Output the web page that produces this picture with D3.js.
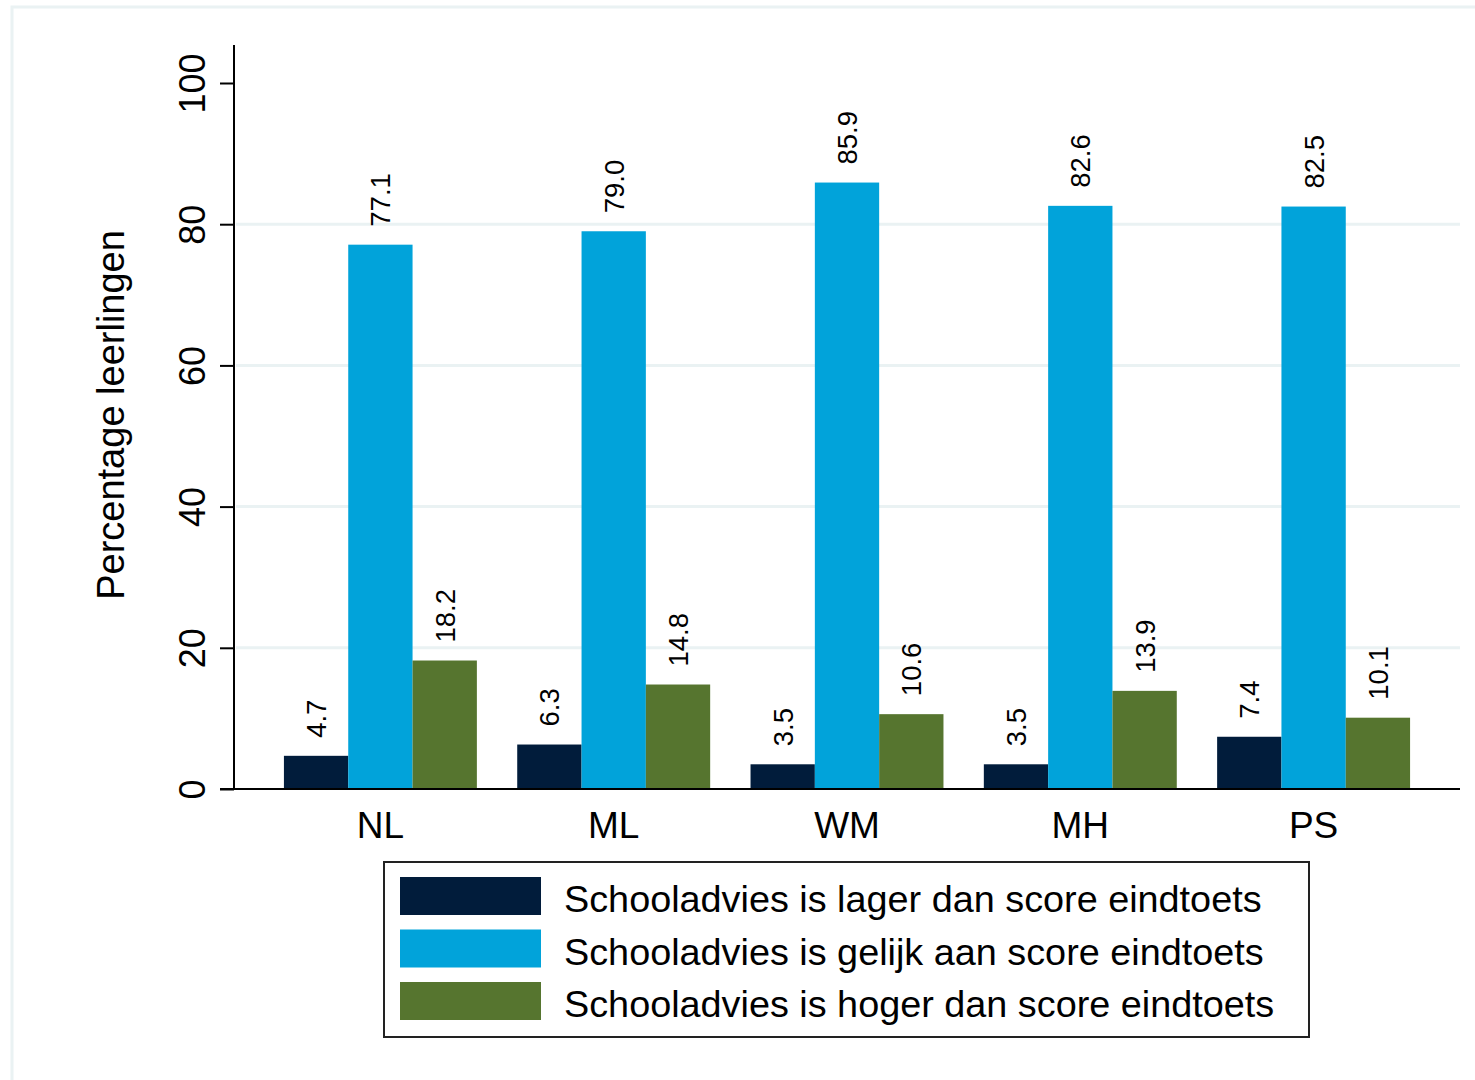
<!DOCTYPE html>
<html>
<head>
<meta charset="utf-8">
<script src="https://cdn.jsdelivr.net/npm/d3@7"></script>
<style>
  body { margin: 0; background: #fff; }
  text { font-family: "Liberation Sans", Arial, sans-serif; fill: #000; }
</style>
</head>
<body>
<svg id="chart" width="1475" height="1080"></svg>
<script>
// groups on the x axis
let categories = ["NL", "ML", "WM", "MH", "PS"];

// series: advice lower / equal / higher than test score
let lager  = [4.7, 6.3, 3.5, 3.5, 7.4];
let gelijk = [77.1, 79.0, 85.9, 82.6, 82.5];
let hoger  = [18.2, 14.8, 10.6, 13.9, 10.1];

let seriesNames = [
  "Schooladvies is lager dan score eindtoets",
  "Schooladvies is gelijk aan score eindtoets",
  "Schooladvies is hoger dan score eindtoets"
];
let seriesColors = ["#011c3b", "#01a3da", "#56752f"];

let yTicks = [0, 20, 40, 60, 80, 100];

let svg = d3.select("#chart");

// light outer frame
svg.append("rect")
  .attr("x", 12).attr("y", 7)
  .attr("width", 1500).attr("height", 1100)
  .attr("fill", "none")
  .attr("stroke", "#eaf2f3")
  .attr("stroke-width", 3);

let left = 234, right = 1460, bottom = 789;

let y = d3.scaleLinear().domain([0, 100]).range([bottom, 83]);

let x = d3.scaleBand()
  .domain(categories)
  .range([left, right])
  .paddingInner(0.173)
  .paddingOuter(0.214);

let xs = d3.scaleBand()
  .domain([0, 1, 2])
  .range([0, x.bandwidth()]);

// gridlines (not at the ends)
svg.append("g").selectAll("line")
  .data(yTicks.filter(function(d){ return d > 0 && d < 100; }))
  .enter().append("line")
  .attr("x1", left + 2).attr("x2", right)
  .attr("y1", function(d){ return y(d); })
  .attr("y2", function(d){ return y(d); })
  .attr("stroke", "#eaf2f3")
  .attr("stroke-width", 3);

// build rows for the bars
let allSeries = [lager, gelijk, hoger];
let rows = [];
for (let s = 0; s < allSeries.length; s++)
{
  for (let i = 0; i < categories.length; i++)
  {
    rows.push({cat: categories[i], s: s, v: allSeries[s][i]});
  }
}

svg.append("g").selectAll("rect")
  .data(rows)
  .enter().append("rect")
  .attr("x", function(d){ return x(d.cat) + xs(d.s); })
  .attr("y", function(d){ return y(d.v); })
  .attr("width", xs.bandwidth())
  .attr("height", function(d){ return bottom - y(d.v); })
  .attr("fill", function(d){ return seriesColors[d.s]; });

// value labels, rotated
svg.append("g").selectAll("text")
  .data(rows)
  .enter().append("text")
  .attr("transform", function(d){
    let cx = x(d.cat) + xs(d.s) + xs.bandwidth() / 2 + 10;
    let cy = y(d.v) - 18;
    return "translate(" + cx + "," + cy + ") rotate(-90)";
  })
  .attr("font-size", 27.5)
  .attr("text-anchor", "start")
  .text(function(d){ return d.v.toFixed(1); });

// y axis
let yAxis = d3.axisLeft(y)
  .tickValues(yTicks)
  .tickSize(14)
  .tickFormat(d3.format("d"));

let gy = svg.append("g")
  .attr("transform", "translate(" + left + ",0)")
  .call(yAxis);
gy.select(".domain").remove();
gy.selectAll(".tick line").attr("stroke", "#000").attr("stroke-width", 2);
gy.selectAll(".tick text")
  .attr("x", null).attr("dy", null)
  .attr("font-size", 36)
  .attr("font-family", "Liberation Sans, Arial, sans-serif")
  .attr("text-anchor", "middle")
  .attr("transform", "translate(-29,0) rotate(-90)");

svg.append("line")
  .attr("x1", left).attr("x2", left)
  .attr("y1", 45).attr("y2", bottom + 1)
  .attr("stroke", "#000").attr("stroke-width", 2);

// x axis
svg.append("line")
  .attr("x1", left - 14).attr("x2", right)
  .attr("y1", bottom).attr("y2", bottom)
  .attr("stroke", "#000").attr("stroke-width", 2);

svg.append("g").selectAll("text")
  .data(categories)
  .enter().append("text")
  .attr("x", function(d){ return x(d) + x.bandwidth() / 2; })
  .attr("y", 838)
  .attr("font-size", 37)
  .attr("text-anchor", "middle")
  .text(function(d){ return d; });

// y axis title
svg.append("text")
  .attr("transform", "translate(124," + ((45 + bottom) / 2 - 2) + ") rotate(-90)")
  .attr("font-size", 38)
  .attr("text-anchor", "middle")
  .text("Percentage leerlingen");

// legend
let legend = svg.append("g");
legend.append("rect")
  .attr("x", 384).attr("y", 862)
  .attr("width", 925).attr("height", 175)
  .attr("fill", "#fff")
  .attr("stroke", "#222")
  .attr("stroke-width", 2);

let items = legend.selectAll("g.item")
  .data(seriesNames)
  .enter().append("g")
  .attr("class", "item")
  .attr("transform", function(d, i){ return "translate(400," + (877 + i * 52.5) + ")"; });

items.append("rect")
  .attr("width", 141).attr("height", 38)
  .attr("fill", function(d, i){ return seriesColors[i]; });

items.append("text")
  .attr("x", 164).attr("y", 35)
  .attr("font-size", 37.8)
  .text(function(d){ return d; });
</script>
</body>
</html>
